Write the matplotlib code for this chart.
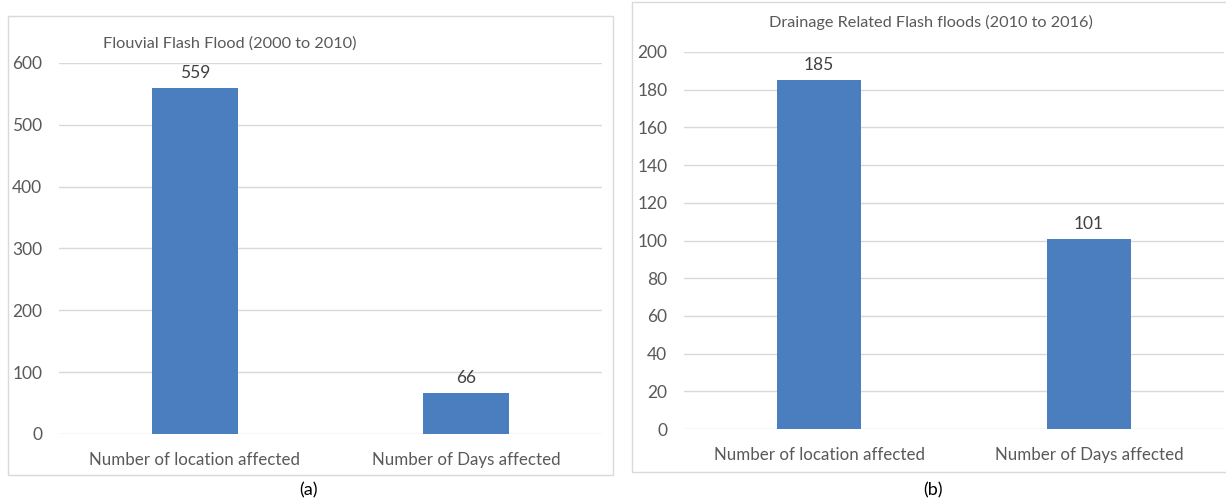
import matplotlib
matplotlib.use("Agg")
import matplotlib.pyplot as plt
from matplotlib.patches import Rectangle

plt.rcParams['font.family'] = ['Lato', 'DejaVu Sans']

categories = ["Number of location affected", "Number of Days affected"]
values_a = [559, 66]
values_b = [185, 101]
title_a = "Flouvial Flash Flood (2000 to 2010)"
title_b = "Drainage Related Flash floods (2010 to 2016)"
yticks_a = [0, 100, 200, 300, 400, 500, 600]
yticks_b = [0, 20, 40, 60, 80, 100, 120, 140, 160, 180, 200]

W, H = 1226, 499
fig = plt.figure(figsize=(W / 100, H / 100), dpi=100)

BAR = "#4A7EBF"
GRID = "#D9D9D9"
TXT = "#595959"
FS_X = 12.2
FS_Y = 12.5
FS_T = 11.7
FS_D = 12.5
FS_C = 13


def px_rect(x0, y0, x1, y1):
    return [x0 / W, 1 - y1 / H, (x1 - x0) / W, (y1 - y0) / H]


# panel borders
for (x0, y0, x1, y1) in [(8, 16, 613, 475), (632, 2, 1232, 472)]:
    fig.patches.append(Rectangle((x0 / W, 1 - y1 / H), (x1 - x0) / W, (y1 - y0) / H,
                                 transform=fig.transFigure, fill=False,
                                 edgecolor=GRID, linewidth=1.0))


def panel(rect, vals, yticks, width):
    ax = fig.add_axes(rect)
    x = list(range(len(categories)))
    ax.bar(x, vals, width=width, color=BAR, zorder=3)
    ax.set_xlim(-0.5, len(categories) - 0.5)
    ax.set_ylim(yticks[0], yticks[-1])
    ax.set_yticks(yticks)
    ax.set_xticks(x)
    ax.set_xticklabels(categories, fontsize=FS_X, color=TXT)
    ax.tick_params(axis='x', length=0, pad=13)
    ax.tick_params(axis='y', length=0, pad=12, labelsize=FS_Y, labelcolor=TXT)
    for s in ax.spines.values():
        s.set_visible(False)
    ax.yaxis.grid(True, color=GRID, linewidth=1.0, zorder=0)
    ax.set_axisbelow(True)
    for xi, v in zip(x, vals):
        ax.annotate(str(v), (xi, v), xytext=(0, 5), textcoords='offset points',
                    ha='center', va='bottom', fontsize=FS_D, color="#404040")
    return ax


panel(px_rect(59, 63, 602, 434), values_a, yticks_a, 0.317)
panel(px_rect(684, 52, 1224, 429), values_b, yticks_b, 0.31)

fig.text(230 / W, 1 - 44 / H, title_a, ha='center', va='center', fontsize=FS_T, color=TXT)
fig.text(931 / W, 1 - 22 / H, title_b, ha='center', va='center', fontsize=FS_T, color=TXT)
fig.text(308 / W, 1 - 490 / H, "(a)", ha='center', va='center', fontsize=FS_C, color="black")
fig.text(933 / W, 1 - 490 / H, "(b)", ha='center', va='center', fontsize=FS_C, color="black")

fig.savefig("out.png", dpi=100, facecolor="white")
